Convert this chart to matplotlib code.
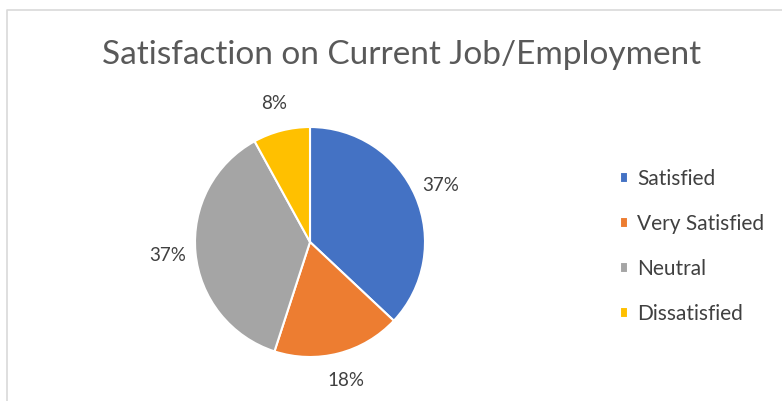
import matplotlib.pyplot as plt
from matplotlib.lines import Line2D

plt.rcParams['font.family'] = ['Lato', 'DejaVu Sans']

# 数据
labels = ['Satisfied', 'Very Satisfied', 'Neutral', 'Dissatisfied']
values = [37, 18, 37, 8]
colors = ['#4472C4', '#ED7D31', '#A5A5A5', '#FFC000']
title = 'Satisfaction on Current Job/Employment'

W, H = 782, 401
fig = plt.figure(figsize=(W / 100, H / 100), dpi=100)
fig.patch.set_facecolor('white')

# 浅灰色边框 (左边和上边)
fig.add_artist(Line2D([7 / W, 7 / W, 1.0], [0.0, 1 - 10 / H, 1 - 10 / H],
                      transform=fig.transFigure, color='#D9D9D9', linewidth=1.2))

# 饼图区域: 圆心 (310, 242), 半径 115 px
cx, cy, r = 310, 242, 115
ax = fig.add_axes([(cx - r) / W, (H - cy - r) / H, 2 * r / W, 2 * r / H])
wedges, texts, autotexts = ax.pie(values, colors=colors, startangle=90, counterclock=False,
                                  autopct='%1.0f%%', pctdistance=1.24,
                                  wedgeprops={'edgecolor': 'white', 'linewidth': 1.5},
                                  textprops={'fontsize': 13.5, 'color': '#404040'})
ax.set_xlim(-1, 1)
ax.set_ylim(-1, 1)
ax.axis('off')

fig.text(402 / W, 1 - 55 / H, title, ha='center', va='center', fontsize=24, color='#595959')

fig.legend(wedges, labels, loc='upper left', bbox_to_anchor=(601 / W, 1 - 150 / H),
           frameon=False, fontsize=15, labelcolor='#404040',
           handlelength=0.4, handleheight=0.4, handletextpad=0.45, labelspacing=1.2)

fig.savefig('out.png', dpi=100, facecolor='white')
